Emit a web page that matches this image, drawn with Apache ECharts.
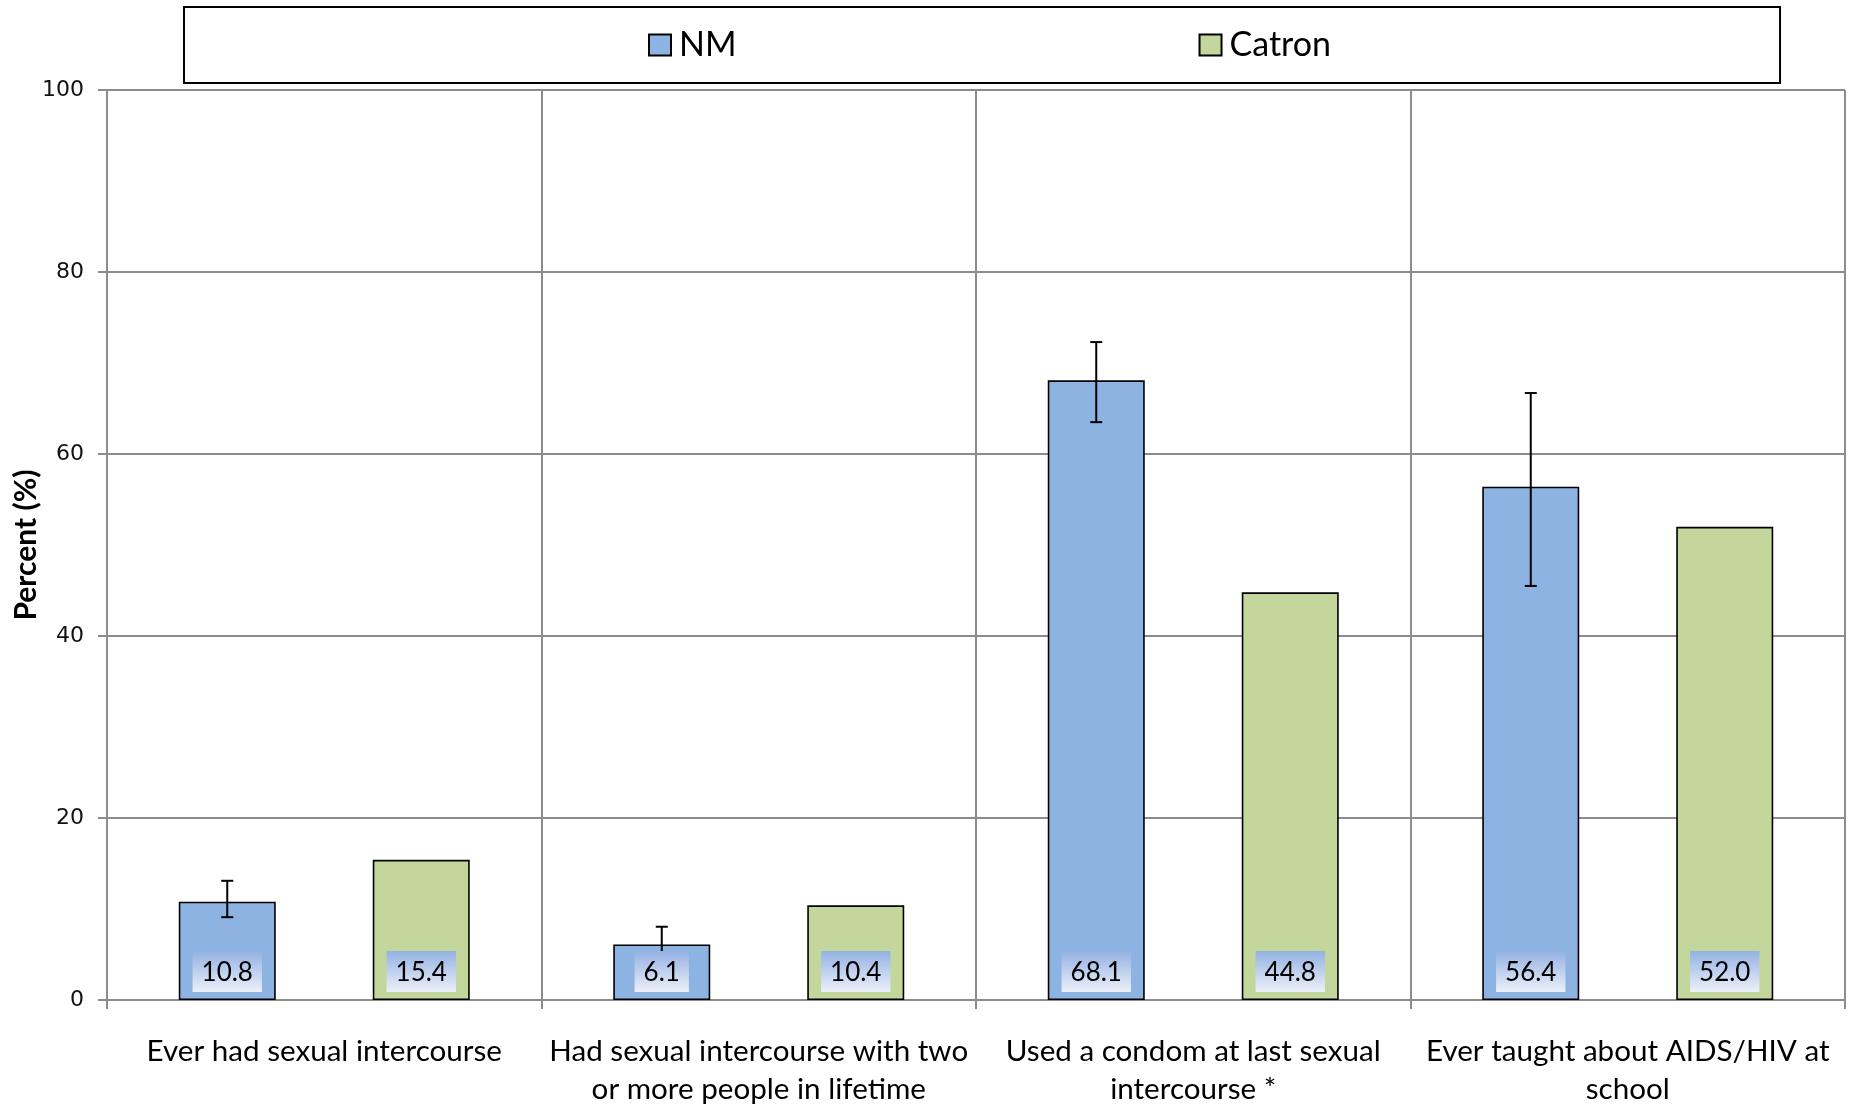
<!DOCTYPE html>
<html>
<head>
<meta charset="utf-8">
<script src="https://cdn.jsdelivr.net/npm/echarts@6/dist/echarts.min.js"></script>
<style>
html,body{margin:0;padding:0;background:#fff;}
#chart{width:1851px;height:1105px;}
</style>
</head>
<body>
<div id="chart"></div>
<script>
// ---- data ----
var categories = [
  'Ever had sexual intercourse',
  'Had sexual intercourse with two\nor more people in lifetime',
  'Used a condom at last sexual\nintercourse *',
  'Ever taught about AIDS/HIV at\nschool'
];
var seriesNames = ['NM', 'Catron'];
var nmValues = [10.8, 6.1, 68.1, 56.4];
var catronValues = [15.4, 10.4, 44.8, 52.0];
var nmErrLow = [9.1, 4.6, 63.5, 45.5];
var nmErrHigh = [13.1, 8.05, 72.3, 66.7];
var yTicks = [0, 20, 40, 60, 80, 100];

// ---- style ----
var BAR_W = 97;
var GRID_COLOR = '#8c8c8c';
var FONT = 'Lato';

var chart = echarts.init(document.getElementById('chart'), null, {renderer: 'canvas'});

var labelBg = {
  type: 'linear', x: 0, y: 0, x2: 0, y2: 1,
  colorStops: [{offset: 0, color: '#93b1e2'}, {offset: 1, color: '#ecf0f9'}]
};
function barLabel() {
  return {
    show: true,
    position: 'insideBottom',
    distance: 8,
    color: '#000',
    fontFamily: FONT,
    fontSize: 26,
    lineHeight: 27,
    padding: [8, 9, 6, 9],
    backgroundColor: labelBg,
    formatter: function (p) { return p.value.toFixed(1); }
  };
}

var errData = categories.map(function (c, i) { return [i, nmErrLow[i], nmErrHigh[i]]; });

var option = {
  backgroundColor: '#fff',
  animation: false,
  legend: {
    data: seriesNames,
    left: 184,
    top: 7,
    orient: 'horizontal',
    icon: 'rect',
    padding: [18, 449, 18, 464],
    itemGap: 462,
    itemWidth: 22,
    itemHeight: 21,
    borderColor: '#000',
    borderWidth: 2,
    textStyle: {
      fontFamily: FONT,
      fontSize: 34,
      color: '#000',
      lineHeight: 40,
      padding: [0, 0, 0, 3]
    }
  },
  grid: {left: 107, right: 6, top: 90, bottom: 105, containLabel: false, outerBoundsMode: 'none'},
  xAxis: [{
    type: 'category',
    data: categories,
    axisLine: {show: true, lineStyle: {color: GRID_COLOR, width: 2}},
    axisTick: {show: true, length: 9, interval: 0, lineStyle: {color: GRID_COLOR, width: 2}},
    splitLine: {show: true, interval: 0, lineStyle: {color: GRID_COLOR, width: 2}},
    axisLabel: {
      interval: 0,
      color: '#000',
      fontFamily: FONT,
      fontSize: 29.6,
      lineHeight: 38,
      margin: 32
    }
  }, {
    type: 'category',
    data: categories,
    show: false
  }],
  yAxis: {
    type: 'value',
    min: yTicks[0],
    max: yTicks[yTicks.length - 1],
    interval: 20,
    name: 'Percent (%)',
    nameLocation: 'middle',
    nameGap: 66,
    nameMoveOverlap: false,
    nameTextStyle: {fontFamily: FONT, fontWeight: 'bold', fontSize: 30, color: '#000'},
    axisLine: {show: true, lineStyle: {color: GRID_COLOR, width: 2}},
    axisTick: {show: true, length: 9, lineStyle: {color: GRID_COLOR, width: 2}},
    splitLine: {show: true, lineStyle: {color: GRID_COLOR, width: 2}},
    axisLabel: {fontFamily: 'DejaVu Sans', fontSize: 22, color: '#111', margin: 23}
  },
  series: [
    {
      name: seriesNames[0],
      type: 'bar',
      data: nmValues,
      barWidth: BAR_W,
      barGap: '100%',
      z: 2,
      itemStyle: {color: '#8db3e2', borderColor: '#000', borderWidth: 1.6}
    },
    {
      name: seriesNames[1],
      type: 'bar',
      data: catronValues,
      barWidth: BAR_W,
      barGap: '100%',
      z: 2,
      itemStyle: {color: '#c3d69b', borderColor: '#000', borderWidth: 1.6}
    },
    {
      name: 'err',
      type: 'custom',
      z: 3,
      data: errData,
      encode: {x: 0, y: [1, 2]},
      renderItem: function (params, api) {
        var ci = api.value(0);
        var lo = api.coord([ci, api.value(1)]);
        var hi = api.coord([ci, api.value(2)]);
        var x = lo[0] - BAR_W;
        var cap = 6;
        var st = {stroke: '#000', lineWidth: 2};
        return {
          type: 'group',
          children: [
            {type: 'line', shape: {x1: x, y1: lo[1], x2: x, y2: hi[1]}, style: st},
            {type: 'line', shape: {x1: x - cap, y1: lo[1], x2: x + cap, y2: lo[1]}, style: st},
            {type: 'line', shape: {x1: x - cap, y1: hi[1], x2: x + cap, y2: hi[1]}, style: st}
          ]
        };
      }
    },
    {
      name: 'NM labels',
      type: 'bar',
      xAxisIndex: 1,
      data: nmValues,
      barWidth: BAR_W,
      barGap: '100%',
      z: 4,
      silent: true,
      itemStyle: {color: 'rgba(0,0,0,0)', borderWidth: 0},
      label: barLabel()
    },
    {
      name: 'Catron labels',
      type: 'bar',
      xAxisIndex: 1,
      data: catronValues,
      barWidth: BAR_W,
      barGap: '100%',
      z: 4,
      silent: true,
      itemStyle: {color: 'rgba(0,0,0,0)', borderWidth: 0},
      label: barLabel()
    }
  ]
};
chart.setOption(option);
</script>
</body>
</html>
